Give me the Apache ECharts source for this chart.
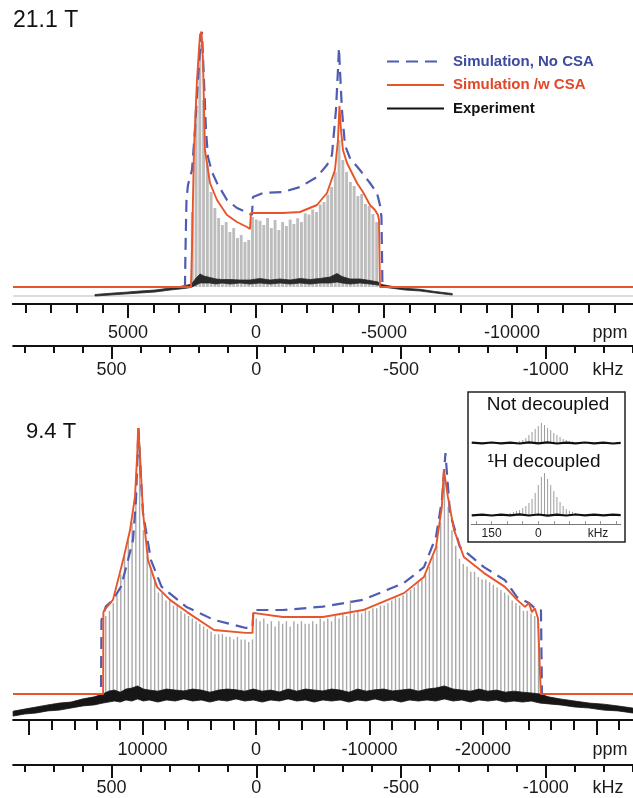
<!DOCTYPE html>
<html>
<head>
<meta charset="utf-8">
<script src="https://cdn.jsdelivr.net/npm/echarts@6.0.0/dist/echarts.min.js"></script>
<style>
html,body{margin:0;padding:0;background:#fff;}
#chart{width:633px;height:798px;}
</style>
</head>
<body>
<div id="chart"></div>
<script>
// ================= DATA (x in kHz, intensity in arbitrary units) =================
// ---- 21.1 T panel ----
const topBlueX = [840,246.3,244.5,241.1,235.9,222.1,211.7,201.4,191,187.6,180.7,173.7,166.8,153,135.7,101.2,66.7,28.7,14.9,11.4,-23.1,-92.2,-150.9,-209.7,-244.2,-261.5,-275.3,-282.2,-285.6,-289.1,-296,-306.3,-323.6,-358.1,-392.8,-417,-427.3,-432.4,-435.9,-1500];
const topBlueY = [0,0,14.8,34.8,40.8,46.8,62.8,82.8,100.8,102,82.8,62.8,52,46,41.6,34.8,31.6,29.6,28.8,36,37.6,38,40,44,48.8,52.8,70.8,86.8,95.6,86.8,70.8,56.8,51.6,46.8,41.6,37.6,32.8,28,0,0];
const topRedX = [840,225.5,222.1,215.2,204.8,194.5,189.3,184.1,177.2,159.9,135.7,101.2,66.7,32.1,21.8,18.3,-37,-92.2,-150.9,-209.7,-244.2,-271.8,-282.2,-287.4,-292.6,-299.5,-313.3,-347.9,-368.6,-392.8,-410.1,-420.4,-423.9,-427.3,-1500];
const topRedY = [0,0,14.8,54.8,82.8,100.8,102.1,90.8,54.8,41.6,34.8,28.8,26,24,23.2,29.6,29.6,29.6,30,32.8,37.6,46.8,58.8,72.4,62.8,54.8,49.6,41.6,38,32.8,30.8,28.8,26.8,0,0];
const topSpikeX = [221,208,195,182,169,156,143,130,117,104,91,78,65,52,39,26,13,0,-13,-26,-39,-52,-65,-78,-91,-104,-117,-130,-143,-156,-169,-182,-195,-208,-221,-234,-247,-260,-273,-286,-299,-312,-325,-338,-351,-364,-377,-390,-403,-416];
const topSpikeY = [30,70.8,96.8,74.8,48.8,38,31.6,27.6,24.8,26,22,23.6,19.6,20.8,18,18.8,28,27,26.5,24.8,27.6,23.6,26.8,22.8,26,24.4,27,25.2,27.5,26,29.5,29,31,30,33,34,37,40,46,58.8,50.8,46,42,40.4,36.4,37.2,33.2,32.4,29.2,26];
const topExpX = [557,505,453,401,349,297,264,236,222,208,194,181,160,139,118,91,56,22,-13,-48,-82,-117,-151,-186,-220,-255,-279,-296,-324,-358,-393,-421,-434,-462,-514,-566,-618,-677];
const topExpLow = [-3.6,-3.2,-2.8,-2.4,-2,-1.2,-0.8,-0.4,0,0.8,1.6,1.6,1.6,1.2,1.6,1.2,1.6,1.2,1.6,1.2,1.6,1.2,1.6,1.2,1.6,1.6,2,1.6,1.2,1.6,1.2,0.8,0,-0.4,-1.2,-1.6,-2.4,-3.2];
const topExpThick = [0.6,0.7,0.7,0.8,0.8,0.8,1,1.2,1.4,2.8,3.6,2.8,2.2,2,1.4,1.8,1.2,1.6,1.8,1.6,1.6,1.6,1.8,1.8,1.8,2.4,3.4,2.6,2,1.6,1.4,1.2,1,0.8,0.7,0.7,0.6,0.6];
const topGrayBaseX = [840,-1500];
const topGrayBaseY = [-3.6,-3.6];

// ---- 9.4 T panel ----
const botBlueX = [840,536.4,534.7,519.8,495,467.3,443.1,425.9,415.5,406.9,398.2,391.3,363.7,327.4,242.8,146.1,35.6,13.1,9.7,-92.2,-230.4,-368.5,-510.2,-579.3,-620.7,-641.4,-653.5,-669,-703.5,-786.5,-859,-900.5,-942,-969.6,-983.4,-986.8,-1500];
const botBlueY = [0,0,28.5,33.6,36.2,41.3,51.5,59.2,74.6,102.3,82.3,69.6,51.5,41.3,33.6,28.5,25.4,25.4,32.3,32.3,33.6,36.2,42.7,48.8,60.4,74.6,92.7,69.6,56.5,48.8,43.8,37.3,35,32.3,32.3,0,0];
const botRedX = [840,529,528,523,495,460,436,419,411,408,402,391,374,343,298,239,146,36,13,11,-92,-230,-369,-510,-579,-621,-641,-648,-662,-683,-717,-787,-859,-901,-928,-942,-952,-962,-973,-983,-1500];
const botRedY = [0,0,31.5,32.5,36.2,51.5,63.1,75.8,92.7,102.3,92.7,69.6,51.5,41.2,36.2,31.5,24.6,23.5,23.5,31.2,29.6,29.6,32.3,38.8,45,56.5,71.9,86.2,75.8,63.1,52.7,46.5,41.2,36.2,33.5,35,31.5,33,29.2,0,0];
const botSpikeX = [520,507,494,481,468,455,442,429,416,403,390,377,364,351,338,325,312,299,286,273,260,247,234,221,208,195,182,169,156,143,130,117,104,91,78,65,52,39,26,13,0,-13,-26,-39,-52,-65,-78,-91,-104,-117,-130,-143,-156,-169,-182,-195,-208,-221,-234,-247,-260,-273,-286,-299,-312,-325,-338,-351,-364,-377,-390,-403,-416,-429,-442,-455,-468,-481,-494,-507,-520,-533,-546,-559,-572,-585,-598,-611,-624,-637,-650,-663,-676,-689,-702,-715,-728,-741,-754,-767,-780,-793,-806,-819,-832,-845,-858,-871,-884,-897,-910,-923,-936,-949,-962,-975];
const botSpikeY = [30,32,35,38,46,53,59,66,78,97,63,53,48,44,39,39,36,36,34,34,32,31,30,29,28,27,26,25,24,23,23,23,22,22,21,22,21,21,20,21,29,28,29,27,28,26,28,27,28,26,28,27,28,27,27,28,27,29,28,29,28,30,29,31,30,36,31,32,31,33,32,33,33,34,34,35,36,37,37,38,39,40,41,43,44,46,49,53,57,66,84,72,63,57,52,50,49,47,47,45,44,44,43,42,41,40,39,38,36,35,34,32,32,31,30,27];
const botExpX = [840,800,760,720,680,640,600,560,530,510,490,470,450,430,410,390,370,340,310,280,250,220,190,160,130,100,70,40,10,-20,-50,-80,-110,-140,-170,-200,-230,-260,-290,-320,-350,-380,-410,-440,-470,-500,-530,-560,-590,-620,-650,-680,-710,-740,-770,-800,-830,-860,-890,-920,-950,-980,-1010,-1050,-1100,-1150,-1200,-1250,-1300,-1350];
const botExpLow = [-8.5,-7.7,-7.3,-6.5,-6.2,-5.4,-4.6,-4.2,-3.5,-3.1,-2.7,-3.1,-2.3,-2.7,-1.9,-2.7,-2.3,-3.1,-2.3,-2.7,-1.9,-2.7,-2.3,-3.1,-2.3,-2.7,-1.9,-2.7,-2.3,-3.1,-2.3,-2.7,-1.9,-2.7,-2.3,-3.1,-2.3,-2.7,-2.3,-3.1,-2.3,-2.7,-1.9,-2.7,-2.3,-3.1,-2.3,-2.7,-2.3,-2.7,-1.9,-2.7,-2.3,-3.1,-2.3,-2.7,-2.3,-3.1,-2.7,-3.1,-2.7,-3.5,-3.8,-4.2,-5,-5.4,-6.2,-6.5,-7.3,-8.1];
const botExpThick = [1.9,1.9,2.3,2.3,2.7,2.3,2.7,3.1,3.5,4.2,4.2,3.8,4.2,5,5,4.6,3.8,4.2,4.2,4.2,3.1,4.6,3.8,3.8,3.8,4.6,3.5,3.8,4.2,4.2,3.8,3.5,3.8,3.8,4.2,4.6,3.5,4.6,3.8,3.8,4.2,3.8,3.5,4.6,3.5,4.6,4.2,3.8,4.2,5,5,4.6,3.8,4.2,4.2,3.8,3.8,3.8,3.8,3.8,3.1,3.5,2.7,2.3,2.3,1.9,2.3,1.9,1.9,1.5];

// ---- inset (kHz) ----
const insBaseX = [214,180,150,120,90,60,30,0,-30,-60,-90,-120,-150,-180,-210,-240,-265];
const insBase1Y = [0.3,-0.4,0.5,-0.3,0.4,-0.5,0.6,-0.4,0.7,-0.5,0.4,-0.3,0.5,-0.4,0.3,-0.5,0.2];
const insBase2Y = [-0.3,0.4,-0.5,0.3,-0.4,0.6,-0.5,0.5,-0.6,0.4,-0.5,0.5,-0.3,0.4,-0.4,0.3,-0.2];
const ins1SpikeX = [60,50,40,30,20,10,0,-10,-20,-30,-40,-50,-60,-70,-80,-90,-100,-110];
const ins1SpikeY = [2,3,5,8,11,14,17,20,18,15,13,10,8,6,4,3,2,1.5];
const ins2SpikeX = [90,80,70,60,50,40,30,20,10,0,-10,-20,-30,-40,-50,-60,-70,-80,-90,-100,-110,-120];
const ins2SpikeY = [2,3,4,5,7,9,12,16,22,30,38,42,36,30,24,18,13,9,6,4,3,2];

// ---- axis tick values ----
const topPpmMinor = [9000,8000,7000,6000,5000,4000,3000,2000,1000,0,-1000,-2000,-3000,-4000,-5000,-6000,-7000,-8000,-9000,-10000,-11000,-12000,-13000,-14000];
const topPpmMajor = [5000,0,-5000,-10000];
const botPpmMinor = [20000,18000,16000,14000,12000,10000,8000,6000,4000,2000,0,-2000,-4000,-6000,-8000,-10000,-12000,-14000,-16000,-18000,-20000,-22000,-24000,-26000,-28000,-30000,-32000];
const botPpmMajor = [20000,10000,0,-10000,-20000,-30000];
const botPpmLabels = [10000,0,-10000,-20000];
const kHzMinor = [800,700,600,500,400,300,200,100,0,-100,-200,-300,-400,-500,-600,-700,-800,-900,-1000,-1100,-1200,-1300];
const kHzMajor = [500,0,-500,-1000];
const insTicks = [200,150,100,50,0,-50,-100,-150,-200,-250];
const insLabels = [150,0];

// ================= CHART =================
function zip(a, b) { const n = Math.min(a.length, b.length); const r = []; for (let i = 0; i < n; i++) r.push([a[i], b[i]]); return r; }
const FONT = "'Liberation Sans', Arial, sans-serif";
const BLUE = '#4f5cb1', RED = '#e8552b', BLACK = '#111';

const grids = [], xAxes = [], yAxes = [], series = [];
function addGrid(g, x, y) {
  grids.push(Object.assign({containLabel: false, outerBoundsMode: 'none'}, g));
  const i = grids.length - 1;
  xAxes.push(Object.assign({gridIndex: i, type: 'value', splitLine: {show: false}}, x));
  yAxes.push(Object.assign({gridIndex: i, type: 'value', show: false, splitLine: {show: false}}, y));
  return i;
}
const hiddenKHz = {min: -1500, max: 840, inverse: true, show: false};
const gTop = addGrid({left: 13.1, width: 677.4, top: 12, height: 292}, hiddenKHz, {min: -6.8, max: 110});
const gBot = addGrid({left: 13.1, width: 677.4, top: 408, height: 312}, hiddenKHz, {min: -10, max: 110});

const plainNum = v => String(v);
function axisPair(rect, min, max, minorVals, majorVals, labelVals, minorLen, majorLen, margin, lw) {
  addGrid(rect, {min, max, inverse: true, position: 'bottom',
    axisLine: {show: true, onZero: false, lineStyle: {color: BLACK, width: lw}},
    axisTick: {show: true, customValues: minorVals, length: minorLen, lineStyle: {color: BLACK, width: lw}},
    axisLabel: {show: false}}, {min: 0, max: 1});
  addGrid(rect, {min, max, inverse: true, position: 'bottom',
    axisLine: {show: false, onZero: false},
    axisTick: {show: true, customValues: majorVals, length: majorLen, lineStyle: {color: BLACK, width: lw}},
    axisLabel: {show: true, customValues: labelVals, formatter: plainNum, margin: margin, fontSize: 18, color: '#1a1a1a', fontFamily: FONT}},
    {min: 0, max: 1});
}
axisPair({left: 12.8, width: 627.2, top: 294, height: 10}, -15000, 9500, topPpmMinor, topPpmMajor, topPpmMajor, 9, 14, 20, 2);
axisPair({left: 13.1, width: 677.4, top: 336, height: 10}, -1500, 840, kHzMinor, kHzMajor, kHzMajor, 7, 13, 15, 2);
axisPair({left: 13.1, width: 696.9, top: 710, height: 10}, -40000, 21400, botPpmMinor, botPpmMajor, botPpmLabels, 10, 15, 21, 2);
axisPair({left: 13.1, width: 677.4, top: 755, height: 10}, -1500, 840, kHzMinor, kHzMajor, kHzMajor, 7, 13, 14, 2);

const insX = {min: -265, max: 215, inverse: true, show: false};
const gIns1 = addGrid({left: 471.4, width: 149.3, top: 415, height: 35}, insX, {min: -7, max: 28});
const gIns2 = addGrid({left: 471.4, width: 149.3, top: 465, height: 57}, insX, {min: -7, max: 50});
addGrid({left: 471.4, width: 149.3, top: 514, height: 10}, {min: -265, max: 215, inverse: true, position: 'bottom',
  axisLine: {show: true, onZero: false, lineStyle: {color: '#777', width: 1}},
  axisTick: {show: true, inside: true, customValues: insTicks, length: 3, lineStyle: {color: '#999', width: 1}},
  axisLabel: {show: true, customValues: insLabels, formatter: plainNum, margin: 4, fontSize: 12, color: '#222', fontFamily: FONT}}, {min: 0, max: 1});

// spikelets: vertical segments from the baseline, placed by the axes' scales
function spikeSeries(g, xs, ys, w, color) {
  return {type: 'custom', xAxisIndex: g, yAxisIndex: g, data: zip(xs, ys), silent: true, z: 1,
    renderItem: function (params, api) {
      const p0 = api.coord([api.value(0), 0]);
      const p1 = api.coord([api.value(0), api.value(1)]);
      return {type: 'line', shape: {x1: p0[0], y1: p0[1], x2: p1[0], y2: p1[1]}, style: {stroke: color, lineWidth: w}};
    }};
}
// experimental noise band between low and low+thick
function bandSeries(g, xs, low, thick, color) {
  return {type: 'custom', xAxisIndex: g, yAxisIndex: g, data: zip(xs, low), silent: true, z: 3,
    renderItem: function (params, api) {
      if (params.dataIndex !== 0) return null;
      const pts = [];
      for (let i = 0; i < xs.length; i++) pts.push(api.coord([xs[i], low[i] + thick[i]]));
      for (let i = xs.length - 1; i >= 0; i--) pts.push(api.coord([xs[i], low[i]]));
      return {type: 'polygon', shape: {points: pts}, style: {fill: color, stroke: color, lineWidth: 0.8}};
    }};
}
function lineSeries(g, name, xs, ys, style, z) {
  return {type: 'line', name, xAxisIndex: g, yAxisIndex: g, data: zip(xs, ys), symbol: 'none', showSymbol: false,
    lineStyle: style, itemStyle: {color: style.color}, silent: true, z};
}
const blueStyle = {color: BLUE, width: 2.2, type: [12, 7]};
const redStyle = {color: RED, width: 1.9};

series.push(lineSeries(gTop, 'grayBase', topGrayBaseX, topGrayBaseY, {color: '#d0d0d0', width: 1.5}, 0));
series.push(spikeSeries(gTop, topSpikeX, topSpikeY, 2.9, '#bdbdbd'));
series.push(bandSeries(gTop, topExpX, topExpLow, topExpThick, '#2a2a2a'));
series.push(lineSeries(gTop, 'Simulation, No CSA', topBlueX, topBlueY, blueStyle, 4));
series.push(lineSeries(gTop, 'Simulation /w CSA', topRedX, topRedY, redStyle, 5));

series.push(spikeSeries(gBot, botSpikeX, botSpikeY, 1.4, '#a9a9a9'));
series.push(bandSeries(gBot, botExpX, botExpLow, botExpThick, '#161616'));
series.push(lineSeries(gBot, 'Simulation, No CSA', botBlueX, botBlueY, blueStyle, 4));
series.push(lineSeries(gBot, 'Simulation /w CSA', botRedX, botRedY, redStyle, 5));
// legend-only entry for the experiment trace
series.push({type: 'line', name: 'Experiment', xAxisIndex: gTop, yAxisIndex: gTop, data: [], symbol: 'none',
  lineStyle: {color: BLACK, width: 2}, itemStyle: {color: BLACK}});

[[gIns1, ins1SpikeX, ins1SpikeY, insBase1Y], [gIns2, ins2SpikeX, ins2SpikeY, insBase2Y]].forEach(([g, sx, sy, by]) => {
  series.push(spikeSeries(g, sx, sy, 1, '#9c9c9c'));
  series.push(lineSeries(g, 'insetBase' + g, insBaseX, by, {color: BLACK, width: 2.2}, 2));
});

const option = {
  animation: false,
  backgroundColor: '#fff',
  grid: grids, xAxis: xAxes, yAxis: yAxes, series: series,
  legend: {
    orient: 'vertical', left: 381, top: 49, itemWidth: 57, itemHeight: 14, itemGap: 8.5,
    selectedMode: false,
    itemStyle: {opacity: 0},
    data: [
      {name: 'Simulation, No CSA', textStyle: {color: '#3d4aa0'}},
      {name: 'Simulation /w CSA', textStyle: {color: '#e2472a'}},
      {name: 'Experiment', textStyle: {color: BLACK}}
    ],
    textStyle: {fontSize: 15, fontWeight: 'bold', fontFamily: FONT, padding: [0, 0, 0, 4]}
  },
  graphic: [
    {type: 'text', x: 13, y: 21, style: {text: '21.1 T', fontSize: 23, fontFamily: FONT, fill: BLACK, verticalAlign: 'middle'}},
    {type: 'text', x: 26, y: 432, style: {text: '9.4 T', fontSize: 22, fontFamily: FONT, fill: BLACK, verticalAlign: 'middle'}},
    {type: 'text', x: 610, y: 333, style: {text: 'ppm', fontSize: 18, fontFamily: FONT, fill: '#1a1a1a', align: 'center', verticalAlign: 'middle'}},
    {type: 'text', x: 608, y: 370, style: {text: 'kHz', fontSize: 18, fontFamily: FONT, fill: '#1a1a1a', align: 'center', verticalAlign: 'middle'}},
    {type: 'text', x: 610, y: 750, style: {text: 'ppm', fontSize: 18, fontFamily: FONT, fill: '#1a1a1a', align: 'center', verticalAlign: 'middle'}},
    {type: 'text', x: 608, y: 788, style: {text: 'kHz', fontSize: 18, fontFamily: FONT, fill: '#1a1a1a', align: 'center', verticalAlign: 'middle'}},
    {type: 'rect', shape: {x: 468, y: 392, width: 157, height: 150}, style: {fill: 'none', stroke: '#222', lineWidth: 1.5}, z: 10},
    {type: 'text', x: 548, y: 405, style: {text: 'Not decoupled', fontSize: 19, fontFamily: FONT, fill: BLACK, align: 'center', verticalAlign: 'middle'}},
    {type: 'text', x: 544, y: 462, style: {text: '\u00B9H decoupled', fontSize: 19, fontFamily: FONT, fill: BLACK, align: 'center', verticalAlign: 'middle'}},
    {type: 'text', x: 598, y: 534, style: {text: 'kHz', fontSize: 12, fontFamily: FONT, fill: '#222', align: 'center', verticalAlign: 'middle'}}
  ]
};
const chart = echarts.init(document.getElementById('chart'), null, {renderer: 'canvas'});
chart.setOption(option);
</script>
</body>
</html>
